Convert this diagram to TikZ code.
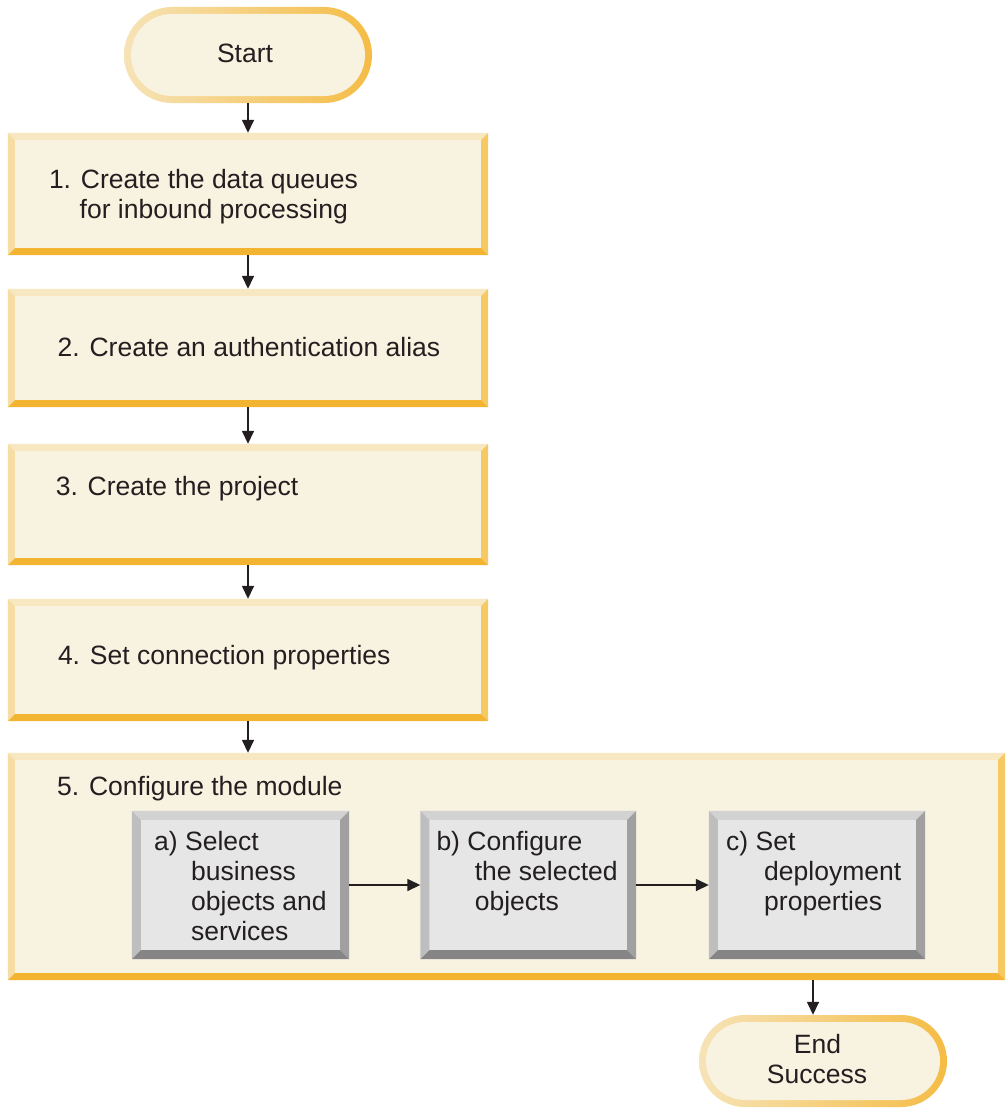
\documentclass[tikz,border=0pt]{standalone}
\usepackage{fontspec}
\setmainfont{Liberation Sans}
\usetikzlibrary{arrows.meta}
\definecolor{cream}{HTML}{F8F2E1}
\definecolor{obtop}{HTML}{F8E8C2}
\definecolor{obleft}{HTML}{F6DDA3}
\definecolor{obright}{HTML}{F6C962}
\definecolor{obbot}{HTML}{F3B531}
\definecolor{stl}{HTML}{F6E3B6}
\definecolor{str}{HTML}{F5BC45}
\definecolor{gfill}{HTML}{E6E6E6}
\definecolor{gtop}{HTML}{D2D2D2}
\definecolor{gleft}{HTML}{BEBEBE}
\definecolor{gright}{HTML}{A0A0A0}
\definecolor{gbot}{HTML}{858585}
\definecolor{inkc}{HTML}{231F20}
\newcommand\bevelframe[6]{%
  \fill[#3] (#1.north west) -- (#1.north east) -- ([shift={(-#2,#2)}]#1.north east) -- ([shift={(#2,#2)}]#1.north west) -- cycle;
  \fill[#4] (#1.north west) -- ([shift={(#2,#2)}]#1.north west) -- ([shift={(#2,-#2)}]#1.south west) -- (#1.south west) -- cycle;
  \fill[#5] (#1.north east) -- ([shift={(-#2,#2)}]#1.north east) -- ([shift={(-#2,-#2)}]#1.south east) -- (#1.south east) -- cycle;
  \fill[#6] (#1.south west) -- ([shift={(#2,-#2)}]#1.south west) -- ([shift={(-#2,-#2)}]#1.south east) -- (#1.south east) -- cycle;
}
\begin{document}
\begin{tikzpicture}[x=1pt,y=-1pt,
  obox/.style={rectangle, fill=cream, inner sep=0pt},
  gbox/.style={rectangle, fill=gfill, inner sep=0pt},
  termout/.style={rectangle, inner sep=0pt, left color=stl, right color=str},
  termin/.style={rectangle, inner sep=0pt, fill=cream},
  txt/.style={anchor=base west, inner sep=0pt, text=inkc, font=\fontsize{26.5}{30}\selectfont},
  ctxt/.style={anchor=base, inner sep=0pt, text=inkc, font=\fontsize{26.5}{30}\selectfont},
  arr/.style={draw=inkc, line width=1.5pt, -{Triangle[length=13pt,width=12pt]}}]
\useasboundingbox (0,0) rectangle (1005,1108);
\fill[white] (0,0) rectangle (1005,1108);

% Start terminal
\node[termout, minimum width=248pt, minimum height=96pt, rounded corners=48pt] (st) at (248,55) {};
\node[termin, minimum width=234pt, minimum height=82pt, rounded corners=41pt] (sti) at (248,55) {};
\node[ctxt] (tst) at (245,63) {Start};

% Steps 1-4
\node[obox, minimum width=480pt, minimum height=122pt] (b1) at (248,194) {};
\bevelframe{b1}{7}{obtop}{obleft}{obright}{obbot}
\node[obox, minimum width=480pt, minimum height=118pt] (b2) at (248,348) {};
\bevelframe{b2}{7}{obtop}{obleft}{obright}{obbot}
\node[obox, minimum width=480pt, minimum height=121pt] (b3) at (248,504.5) {};
\bevelframe{b3}{7}{obtop}{obleft}{obright}{obbot}
\node[obox, minimum width=480pt, minimum height=122pt] (b4) at (248,660) {};
\bevelframe{b4}{7}{obtop}{obleft}{obright}{obbot}

\node[txt] (t1a) at (48.8,188) {1. Create the data queues};
\node[txt] (t1b) at (79.5,218) {for inbound processing};
\node[txt] (t2) at (57.5,356) {2. Create an authentication alias};
\node[txt] (t3) at (55.6,495) {3. Create the project};
\node[txt] (t4) at (57.8,664) {4. Set connection properties};

% Step 5
\node[obox, minimum width=997pt, minimum height=227pt] (b5) at (506.5,866.5) {};
\bevelframe{b5}{7}{obtop}{obleft}{obright}{obbot}
\node[txt] (t5) at (57,795) {5. Configure the module};

% sub-steps
\node[gbox, minimum width=217pt, minimum height=148pt] (ga) at (240.5,885) {};
\bevelframe{ga}{9}{gtop}{gleft}{gright}{gbot}
\node[gbox, minimum width=215.5pt, minimum height=148pt] (gb) at (528.25,885) {};
\bevelframe{gb}{9}{gtop}{gleft}{gright}{gbot}
\node[gbox, minimum width=216pt, minimum height=148pt] (gc) at (817,885) {};
\bevelframe{gc}{9}{gtop}{gleft}{gright}{gbot}

\node[txt] (ta1) at (154,850) {a) Select};
\node[txt] (ta2) at (191,880) {business};
\node[txt] (ta3) at (191,910) {objects and};
\node[txt] (ta4) at (191,940) {services};
\node[txt] (tb1) at (436.3,850) {b) Configure};
\node[txt] (tb2) at (474.6,880) {the selected};
\node[txt] (tb3) at (474.6,910) {objects};
\node[txt] (tc1) at (726,850) {c) Set};
\node[txt] (tc2) at (764,880) {deployment};
\node[txt] (tc3) at (764,910) {properties};

% End terminal
\node[termout, minimum width=248pt, minimum height=92pt, rounded corners=46pt] (en) at (823,1061) {};
\node[termin, minimum width=234pt, minimum height=78pt, rounded corners=39pt] (eni) at (823,1061) {};
\node[ctxt] (te1) at (817.5,1053) {End};
\node[ctxt] (te2) at (817,1083) {Success};

% connectors
\draw[arr] (st.south) -- (b1.north);
\draw[arr] (b1.south) -- (b2.north);
\draw[arr] (b2.south) -- (b3.north);
\draw[arr] (b3.south) -- (b4.north);
\draw[arr] (b4.south) -- (b4.south |- b5.north);
\draw[arr] (ga.east) -- (gb.west);
\draw[arr] (gb.east) -- (gc.west);
\coordinate (e5) at (813,980);
\draw[arr] (e5) -- (e5 |- en.north);
\end{tikzpicture}
\end{document}
